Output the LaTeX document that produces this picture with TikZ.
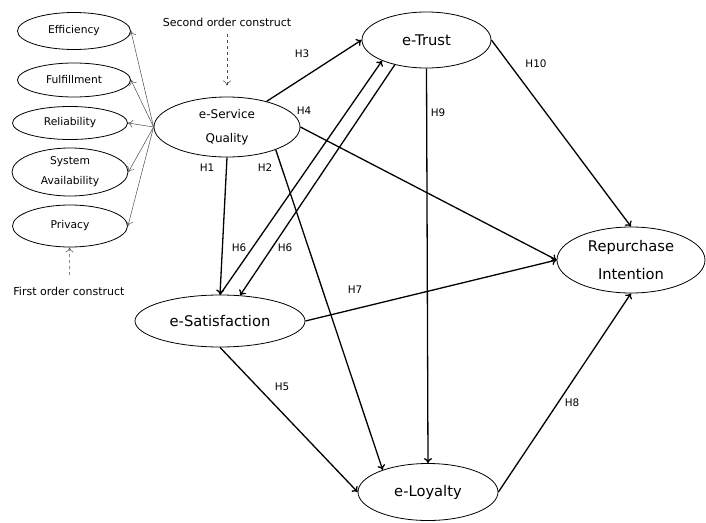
\documentclass[tikz,border=0pt]{standalone}
\usepackage{fontspec}
\setmainfont{DejaVu Sans}
\usepackage{tikz}
\usetikzlibrary{positioning,shapes.geometric,arrows.meta}

\begin{document}
\begin{tikzpicture}[x=1pt,y=-1pt,>={To[length=5pt,width=8pt]},
    latent/.style={ellipse,draw,line width=0.8pt,inner sep=0pt,align=center},
    dim/.style={latent,font=\fontsize{10.7}{20}\selectfont},
    path/.style={->,line width=1.3pt},
    thin/.style={->,line width=0.5pt,black!70},
    hyp/.style={font=\fontsize{10.4}{12}\selectfont}]
    \useasboundingbox (0,0) rectangle (706,522);
    % first order constructs
    \node[dim,minimum width=113,minimum height=37] (eff) at (74,31) {Efficiency};
    \node[dim,minimum width=113,minimum height=34] (ful) at (74,80) {Fulfillment};
    \node[dim,minimum width=115,minimum height=33] (rel) at (70,123) {Reliability};
    \node[dim,minimum width=116,minimum height=48] (sys) at (70,172) {System\\Availability};
    \node[dim,minimum width=115,minimum height=42] (pri) at (70,226) {Privacy};
    % main constructs
    \node[latent,minimum width=146,minimum height=60,font=\fontsize{12}{24}\selectfont] (esq) at (227,127) {e-Service\\Quality};
    \node[latent,minimum width=129,minimum height=56,font=\fontsize{14.7}{18}\selectfont] (trust) at (426.5,40) {e-Trust};
    \node[latent,minimum width=148,minimum height=66,font=\fontsize{14.7}{28}\selectfont] (rep) at (631,260) {Repurchase\\Intention};
    \node[latent,minimum width=170,minimum height=52,font=\fontsize{14.7}{18}\selectfont] (sat) at (220,321) {e-Satisfaction};
    \node[latent,minimum width=140,minimum height=57,font=\fontsize{14.7}{18}\selectfont] (loy) at (428,492) {e-Loyalty};
    % construct notes
    \node[font=\fontsize{11}{13}\selectfont] (second) at (227,22) {Second order construct};
    \node[font=\fontsize{11}{13}\selectfont] (first) at (69,291) {First order construct};
    \draw[thin,dashed] (second) -- (esq) [shorten <=4pt,shorten >=11pt];
    \draw[thin,dashed] (first) -- (pri) [shorten <=8pt];
    \foreach \d in {eff,ful,rel,sys,pri}
      \draw[thin] (esq.west) -- (\d.east);
    % hypotheses
    \draw[path] (esq) -- (trust.west);
    \draw[path] (esq.east) -- (rep.west);
    \draw[path] (esq.south) -- (sat.north);
    \draw[path] (esq.-25) -- (loy.154);
    \draw[path] (sat.north) -- (trust.205);
    \draw[path] (trust.218) -- (sat.52);
    \draw[path] (trust.south) -- (loy.north);
    \draw[path] (trust.east) -- (rep.north);
    \draw[path] (sat.east) -- (rep.west);
    \draw[path] (sat.south) -- (loy.west);
    \draw[path] (loy.east) -- (rep.south);
    \node[hyp] (h1) at (207,168) {H1};
    \node[hyp] (h2) at (265,168) {H2};
    \node[hyp] (h3) at (302,54) {H3};
    \node[hyp] (h4) at (304,111) {H4};
    \node[hyp] (h5) at (282,387) {H5};
    \node[hyp] (h6a) at (239,248) {H6};
    \node[hyp] (h6b) at (285,248) {H6};
    \node[hyp] (h7) at (355,290) {H7};
    \node[hyp] (h8) at (572,403) {H8};
    \node[hyp] (h9) at (438,113) {H9};
    \node[hyp] (h10) at (536,64) {H10};
\end{tikzpicture}
\end{document}
